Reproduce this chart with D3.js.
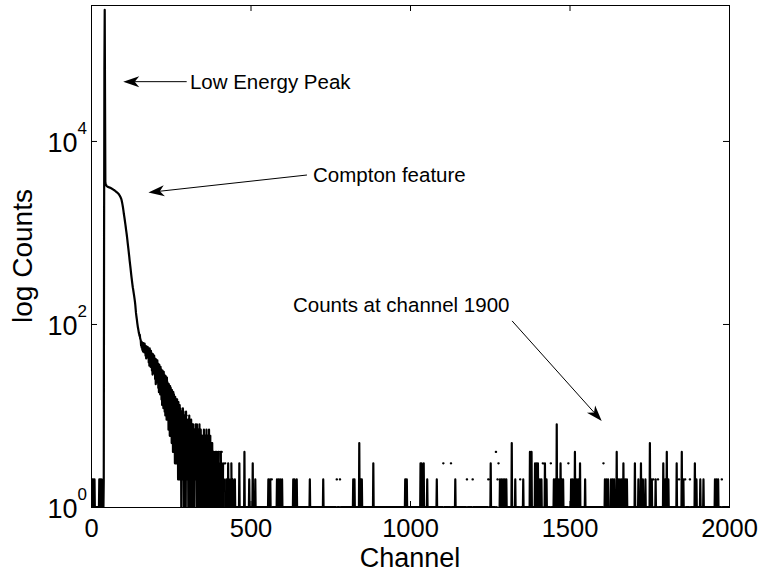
<!DOCTYPE html>
<html>
<head>
<meta charset="utf-8">
<script src="https://cdn.jsdelivr.net/npm/d3@7"></script>
<style>
  html, body { margin: 0; padding: 0; background: #fff; }
  svg { display: block; font-family: "Liberation Sans", Arial, Helvetica, sans-serif; }
</style>
</head>
<body>
<svg id="chart" width="763" height="573"></svg>
<script>
// ---- Spectrum data (counts per channel) ----
// Channels 0..44: low-channel noise and the low energy peak
const peakCounts = [
  1, 1, 1, 1, 2, 1, 1, 2, 1, 1,
  1, 2, 1, 1, 1, 1, 1, 1, 1, 1,
  1, 1, 1, 1, 1, 1, 2, 1, 1, 2,
  1, 1, 2, 1, 1, 1, 1, 1, 2, 1,
  2, 900, 60000, 270000, 30000
];
// Channels 45..155: Compton shoulder and edge
const comptonCounts = [
  3550, 3420, 3330, 3270, 3230, 3200, 3180, 3165, 3150, 3140,
  3130, 3120, 3110, 3100, 3090, 3080, 3070, 3060, 3045, 3030,
  3015, 3000, 2985, 2970, 2955, 2940, 2925, 2910, 2895, 2880,
  2860, 2840, 2820, 2800, 2785, 2770, 2750, 2730, 2710, 2690,
  2670, 2650, 2620, 2590, 2560, 2530, 2490, 2450, 2410, 2370,
  2320, 2250, 2170, 2080, 1990, 1900, 1800, 1700, 1600, 1520,
  1440, 1360, 1280, 1210, 1140, 1070, 1010, 950, 890, 830,
  770, 720, 670, 625, 580, 540, 500, 465, 435, 405,
  375, 348, 325, 305, 285, 267, 252, 240, 228, 216,
  205, 194, 183, 172, 160, 145, 132, 124, 117, 110,
  103, 97, 92, 88, 84, 80, 78, 74, 76, 70, 68
];
// Channels 156..459: noisy falling continuum
const decayCounts = [
  66, 58, 64, 55,
  63, 52, 60, 50, 62, 54, 57, 49, 61, 51,
  58, 45, 55, 42, 57, 47, 52, 43, 56, 44,
  53, 38, 50, 35, 54, 40, 46, 34, 51, 37,
  48, 31, 44, 28, 47, 33, 41, 29, 45, 30,
  42, 25, 38, 22, 41, 27, 35, 23, 40, 24,
  37, 20, 33, 18, 36, 22, 30, 17, 34, 19,
  32, 15, 29, 13, 31, 17, 26, 12, 30, 14,
  28, 11, 25, 10, 27, 13, 22, 9, 26, 11,
  23, 9, 20, 7, 22, 10, 18, 6, 21, 8,
  20, 6, 17, 5, 19, 8, 15, 4, 18, 6,
  17, 4, 14, 3, 16, 6, 12, 3, 15, 5,
  15, 3, 12, 2, 14, 4, 10, 2, 13, 3,
  12, 2, 10, 1, 11, 3, 9, 0, 12, 2,
  11, 1, 9, 0, 10, 2, 8, 1, 11, 0,
  10, 0, 8, 2, 9, 1, 7, 0, 10, 2,
  8, 1, 7, 0, 9, 2, 6, 1, 8, 1,
  8, 1, 6, 1, 7, 2, 5, 0, 8, 2,
  7, 1, 8, 1, 5, 1, 7, 0, 6, 1,
  8, 1, 5, 2, 7, 1, 4, 1, 6, 1,
  6, 0, 5, 1, 7, 1, 4, 1, 6, 1,
  5, 1, 7, 0, 4, 1, 6, 1, 5, 1,
  7, 1, 4, 1, 6, 0, 3, 1, 5, 1,
  5, 1, 3, 1, 4, 0, 2, 1, 3, 1,
  4, 1, 2, 1, 4, 0, 3, 1, 2, 1,
  4, 4, 0, 2, 1, 3, 0, 4, 1, 0,
  4, 0, 2, 1, 3, 0, 1, 2, 0, 0,
  3, 3, 0, 1, 2, 0, 1, 1, 0, 1,
  3, 1, 0, 2, 1, 0, 1, 2, 1, 0,
  3, 1, 1, 0, 2, 1, 0, 1, 1, 0,
  1, 2, 1, 0, 1, 1, 0, 1, 1, 1
];
// Channels 460..2000: single counts, with isolated hits listed below
const tailBaseline = 1;
const tailSpikes = [
  [465,3],[481,4],[496,2],[507,3],[515,2],
  [556,2],[557,2],[562,2],
  [583,2],[588,2],[593,2],[599,2],
  [634,2],[638,2],[645,2],
  [686,2],[728,2],
  [822,2],[826,2],[841,5],[846,2],[849,2],
  [885,3],
  [985,2],[986,2],[990,2],
  [1033,3],[1036,3],[1043,3],[1054,2],
  [1084,2],[1142,2],
  [1253,3],
  [1282,2],[1287,2],[1292,2],[1297,2],[1302,2],
  [1319,5],[1330,2],[1355,2],
  [1376,4],[1381,4],[1392,3],[1397,3],[1401,3],
  [1407,2],[1412,2],[1423,3],[1428,2],[1451,2],[1455,2],[1460,8],[1465,2],[1469,2],[1472,3],[1476,2],[1480,2],
  [1505,2],[1510,2],[1517,4],[1523,2],[1528,2],[1533,3],[1549,2],
  [1611,2],[1616,2],[1621,2],[1630,2],[1635,2],[1640,2],[1648,4],[1653,2],[1658,2],[1663,2],[1669,3],[1675,2],[1680,2],
  [1705,3],[1716,2],[1724,3],[1730,2],[1738,2],[1752,5],[1758,2],[1770,2],
  [1794,3],[1800,2],[1805,4],[1810,2],[1836,3],[1852,4],[1857,2],
  [1893,3],[1898,2],[1910,2],[1920,2],[1956,2],[1961,2],[1966,2]
];
// Short isolated runs (two equal channels surrounded by empty channels)
const tailDots = [
  [566,2],[770,2],[780,2],[1104,3],[1128,3],[1178,2],[1196,2],
  [1245,2],[1269,4],[1274,2],[1277,3],[1345,2],[1416,3],[1441,3],
  [1496,3],[1606,3],[1762,2],[1777,2],[1843,2],[1862,2],[1877,2],[1977,2]
];

// Axis ticks and labels
const xTicks = [0, 500, 1000, 1500, 2000];
const yTickExponents = [0, 2, 4];
const xLabel = "Channel";
const yLabel = "log Counts";

// Annotations: text anchor, arrow tail and arrow tip in (channel, count)
const annotations = [
  { text: "Low Energy Peak", at: [310, 36980], tail: [300, 44460], tip: [101, 44460] },
  { text: "Compton feature", at: [696, 3565], tail: [677, 4246], tip: [180, 2735] },
  { text: "Counts at channel 1900", at: [633, 136], tail: [1320, 108], tip: [1601, 8.71] }
];

// ---- Assemble per-channel series ----
const nChannels = 2001;
const counts = new Array(nChannels).fill(0);
peakCounts.forEach((v, i) => { counts[i] = v; });
comptonCounts.forEach((v, i) => { counts[45 + i] = v; });
decayCounts.forEach((v, i) => { counts[156 + i] = v; });
for (let c = 460; c < nChannels; c++) counts[c] = tailBaseline;
tailSpikes.forEach(([c, v]) => { counts[c] = v; });
tailDots.forEach(([c, v]) => {
  counts[c - 1] = 0; counts[c] = v; counts[c + 1] = v;
  if (c + 2 < nChannels) counts[c + 2] = 0;
});
const spectrum = counts.map((v, c) => ({ channel: c, count: v }));

// ---- Layout ----
const width = 763, height = 573;
const margin = { left: 91, right: 34, top: 5, bottom: 66 };
const plotW = width - margin.left - margin.right;
const plotH = height - margin.top - margin.bottom;

const svg = d3.select("#chart");
const x = d3.scaleLinear().domain([0, 2000]).range([margin.left, margin.left + plotW]);
const y = d3.scaleLog().domain([1, 3.06e5]).range([margin.top + plotH, margin.top]);

svg.append("rect").attr("width", width).attr("height", height).attr("fill", "#fff");

// Clip region for the spectrum (slightly padded so the baseline stroke shows)
svg.append("defs").append("clipPath").attr("id", "plotClip")
  .append("rect")
  .attr("x", margin.left).attr("y", margin.top - 2)
  .attr("width", plotW).attr("height", plotH + 3);

// Spectrum trace
const line = d3.line()
  .defined(d => d.count > 0)
  .x(d => x(d.channel))
  .y(d => y(d.count));

svg.append("path")
  .datum(spectrum)
  .attr("clip-path", "url(#plotClip)")
  .attr("fill", "none")
  .attr("stroke", "#000")
  .attr("stroke-width", 2.2)
  .attr("stroke-linejoin", "round")
  .attr("stroke-linecap", "round")
  .attr("d", line);

// ---- Axes (ticks pointing inward, box on all sides) ----
const tickLen = 6;
const yTickValues = yTickExponents.map(e => Math.pow(10, e));

const gBottom = svg.append("g")
  .attr("transform", `translate(0,${margin.top + plotH})`)
  .call(d3.axisBottom(x).tickValues(xTicks).tickSizeInner(-tickLen).tickSizeOuter(0).tickPadding(12).tickFormat(d3.format("d")));
gBottom.selectAll("text").attr("font-size", "25.5px").attr("fill", "#000")
  .attr("font-family", "'Liberation Sans', Arial, Helvetica, sans-serif");

svg.append("g")
  .attr("transform", `translate(0,${margin.top})`)
  .call(d3.axisTop(x).tickValues(xTicks).tickSizeInner(-tickLen).tickSizeOuter(0).tickFormat(""));

svg.append("g")
  .attr("transform", `translate(${margin.left},0)`)
  .call(d3.axisLeft(y).tickValues(yTickValues).tickSizeInner(-tickLen).tickSizeOuter(0).tickFormat(""));

svg.append("g")
  .attr("transform", `translate(${margin.left + plotW},0)`)
  .call(d3.axisRight(y).tickValues(yTickValues).tickSizeInner(-tickLen).tickSizeOuter(0).tickFormat(""));

svg.selectAll(".domain, .tick line").attr("stroke", "#000").attr("stroke-width", 1);

// Frame
svg.append("rect")
  .attr("x", margin.left + 0.5).attr("y", margin.top + 0.5)
  .attr("width", plotW).attr("height", plotH)
  .attr("fill", "none").attr("stroke", "#000").attr("stroke-width", 1);

// Power-of-ten tick labels on the log axis
yTickExponents.forEach(e => {
  const t = svg.append("text")
    .attr("x", margin.left - 4)
    .attr("y", y(Math.pow(10, e)) + 11)
    .attr("text-anchor", "end")
    .attr("font-size", "27px")
    .attr("fill", "#000");
  t.append("tspan").text("10");
  t.append("tspan").attr("dy", -18).attr("font-size", "17px").text(String(e));
});

// Axis titles
svg.append("text")
  .attr("x", margin.left + plotW / 2)
  .attr("y", 567)
  .attr("text-anchor", "middle")
  .attr("font-size", "27px")
  .attr("fill", "#000")
  .text(xLabel);

svg.append("text")
  .attr("transform", `translate(32,${margin.top + plotH / 2}) rotate(-90)`)
  .attr("text-anchor", "middle")
  .attr("font-size", "28px")
  .attr("fill", "#000")
  .text(yLabel);

// ---- Annotations ----
function arrowHead(tx, ty, sx, sy, len, half) {
  const dx = tx - sx, dy = ty - sy;
  const d = Math.hypot(dx, dy);
  const ux = dx / d, uy = dy / d;
  const nx = -uy, ny = ux;
  const bx = tx - len * ux, by = ty - len * uy;
  const mx = tx - 0.72 * len * ux, my = ty - 0.72 * len * uy;
  return {
    path: `M${tx},${ty}L${bx + half * nx},${by + half * ny}L${mx},${my}L${bx - half * nx},${by - half * ny}Z`,
    notch: [mx, my]
  };
}

const gAnn = svg.append("g");
annotations.forEach(a => {
  const sx = x(a.tail[0]), sy = y(a.tail[1]);
  const tx = x(a.tip[0]), ty = y(a.tip[1]);
  const head = arrowHead(tx, ty, sx, sy, 16, 5.5);
  gAnn.append("line")
    .attr("x1", sx).attr("y1", sy)
    .attr("x2", head.notch[0]).attr("y2", head.notch[1])
    .attr("stroke", "#000").attr("stroke-width", 1);
  gAnn.append("path").attr("d", head.path).attr("fill", "#000");
  gAnn.append("text")
    .attr("x", x(a.at[0])).attr("y", y(a.at[1]))
    .attr("font-size", "20.5px")
    .attr("fill", "#000")
    .text(a.text);
});
</script>
</body>
</html>
